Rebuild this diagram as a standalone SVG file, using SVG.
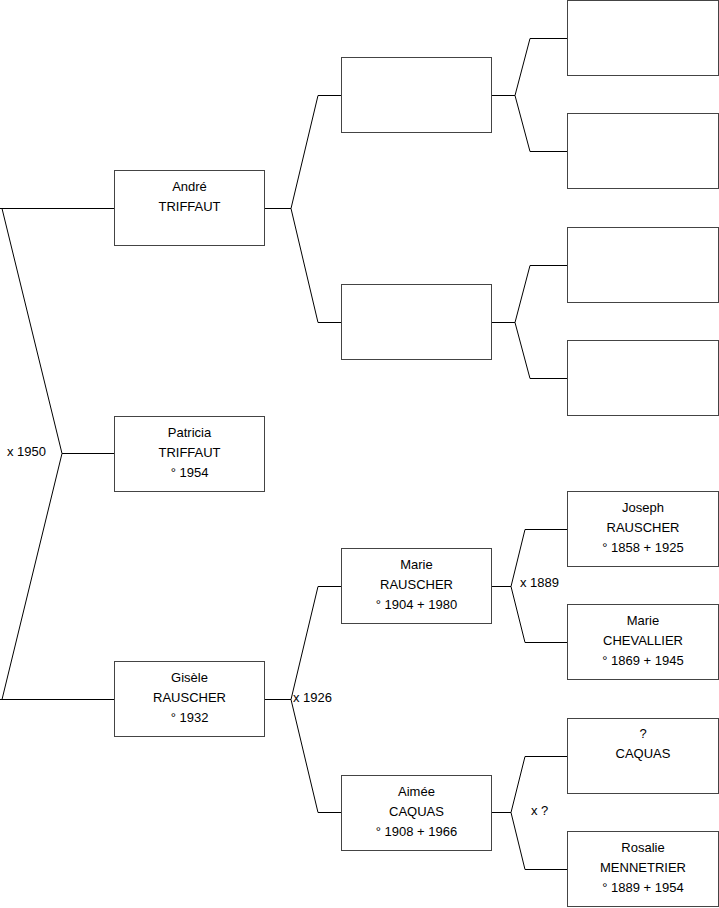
<svg xmlns="http://www.w3.org/2000/svg" width="719" height="908" viewBox="0 0 719 908">
<style>
.box{fill:#fff;stroke:#444;stroke-width:1}
.c{fill:none;stroke:#000;stroke-width:1}
text{font-family:"Liberation Sans",Arial,sans-serif;font-size:13px;fill:#000}
.m{text-anchor:middle}
</style>
<rect width="719" height="908" fill="#fff"/>
<g id="connectors">
<path class="c" d="M0,208.5H114 M2,208.5L62,453.5L2,699.5 M62,453.5H114 M0,699.5H114"/>
<path class="c" d="M265,208.5H291 M341,95.5H318L291,208.5L318,322.5H341"/>
<path class="c" d="M492,95.5H515 M567,38.5H530L515,95.5L530,151.5H567"/>
<path class="c" d="M492,322.5H515 M567,265.5H530L515,322.5L530,378.5H567"/>
<path class="c" d="M265,699.5H291 M341,586.5H318L291,699.5L318,812.5H341"/>
<path class="c" d="M492,586.5H511 M567,529.5H525L511,586.5L525,642.5H567"/>
<path class="c" d="M492,812.5H511 M567,756.5H525L511,812.5L525,869.5H567"/>
<text x="7" y="456">x 1950</text>
<text x="293" y="702">x 1926</text>
<text x="520" y="587">x 1889</text>
<text x="531" y="815">x ?</text>
</g>
<g id="andre"><rect class="box" x="114.5" y="170.5" width="150" height="75"/><text class="m" x="189.5" y="191">André</text><text class="m" x="189.5" y="211">TRIFFAUT</text></g>
<g id="patricia"><rect class="box" x="114.5" y="416.5" width="150" height="75"/><text class="m" x="189.5" y="437">Patricia</text><text class="m" x="189.5" y="457">TRIFFAUT</text><text class="m" x="189.5" y="477">° 1954</text></g>
<g id="gisele"><rect class="box" x="114.5" y="661.5" width="150" height="75"/><text class="m" x="189.5" y="682">Gisèle</text><text class="m" x="189.5" y="702">RAUSCHER</text><text class="m" x="189.5" y="722">° 1932</text></g>
<g id="p-andre-father"><rect class="box" x="341.5" y="57.5" width="150" height="75"/></g>
<g id="p-andre-mother"><rect class="box" x="341.5" y="284.5" width="150" height="75"/></g>
<g id="marie-rauscher"><rect class="box" x="341.5" y="548.5" width="150" height="75"/><text class="m" x="416.5" y="569">Marie</text><text class="m" x="416.5" y="589">RAUSCHER</text><text class="m" x="416.5" y="609">° 1904 + 1980</text></g>
<g id="aimee"><rect class="box" x="341.5" y="775.5" width="150" height="75"/><text class="m" x="416.5" y="796">Aimée</text><text class="m" x="416.5" y="816">CAQUAS</text><text class="m" x="416.5" y="836">° 1908 + 1966</text></g>
<g id="gp1"><rect class="box" x="567.5" y="0.5" width="151" height="75"/></g>
<g id="gp2"><rect class="box" x="567.5" y="113.5" width="151" height="75"/></g>
<g id="gp3"><rect class="box" x="567.5" y="227.5" width="151" height="75"/></g>
<g id="gp4"><rect class="box" x="567.5" y="340.5" width="151" height="75"/></g>
<g id="joseph"><rect class="box" x="567.5" y="491.5" width="151" height="75"/><text class="m" x="643" y="512">Joseph</text><text class="m" x="643" y="532">RAUSCHER</text><text class="m" x="643" y="552">° 1858 + 1925</text></g>
<g id="marie-chevallier"><rect class="box" x="567.5" y="604.5" width="151" height="75"/><text class="m" x="643" y="625">Marie</text><text class="m" x="643" y="645">CHEVALLIER</text><text class="m" x="643" y="665">° 1869 + 1945</text></g>
<g id="caquas"><rect class="box" x="567.5" y="718.5" width="151" height="75"/><text class="m" x="643" y="738">?</text><text class="m" x="643" y="758">CAQUAS</text></g>
<g id="rosalie"><rect class="box" x="567.5" y="831.5" width="151" height="75"/><text class="m" x="643" y="852">Rosalie</text><text class="m" x="643" y="872">MENNETRIER</text><text class="m" x="643" y="892">° 1889 + 1954</text></g>
</svg>
